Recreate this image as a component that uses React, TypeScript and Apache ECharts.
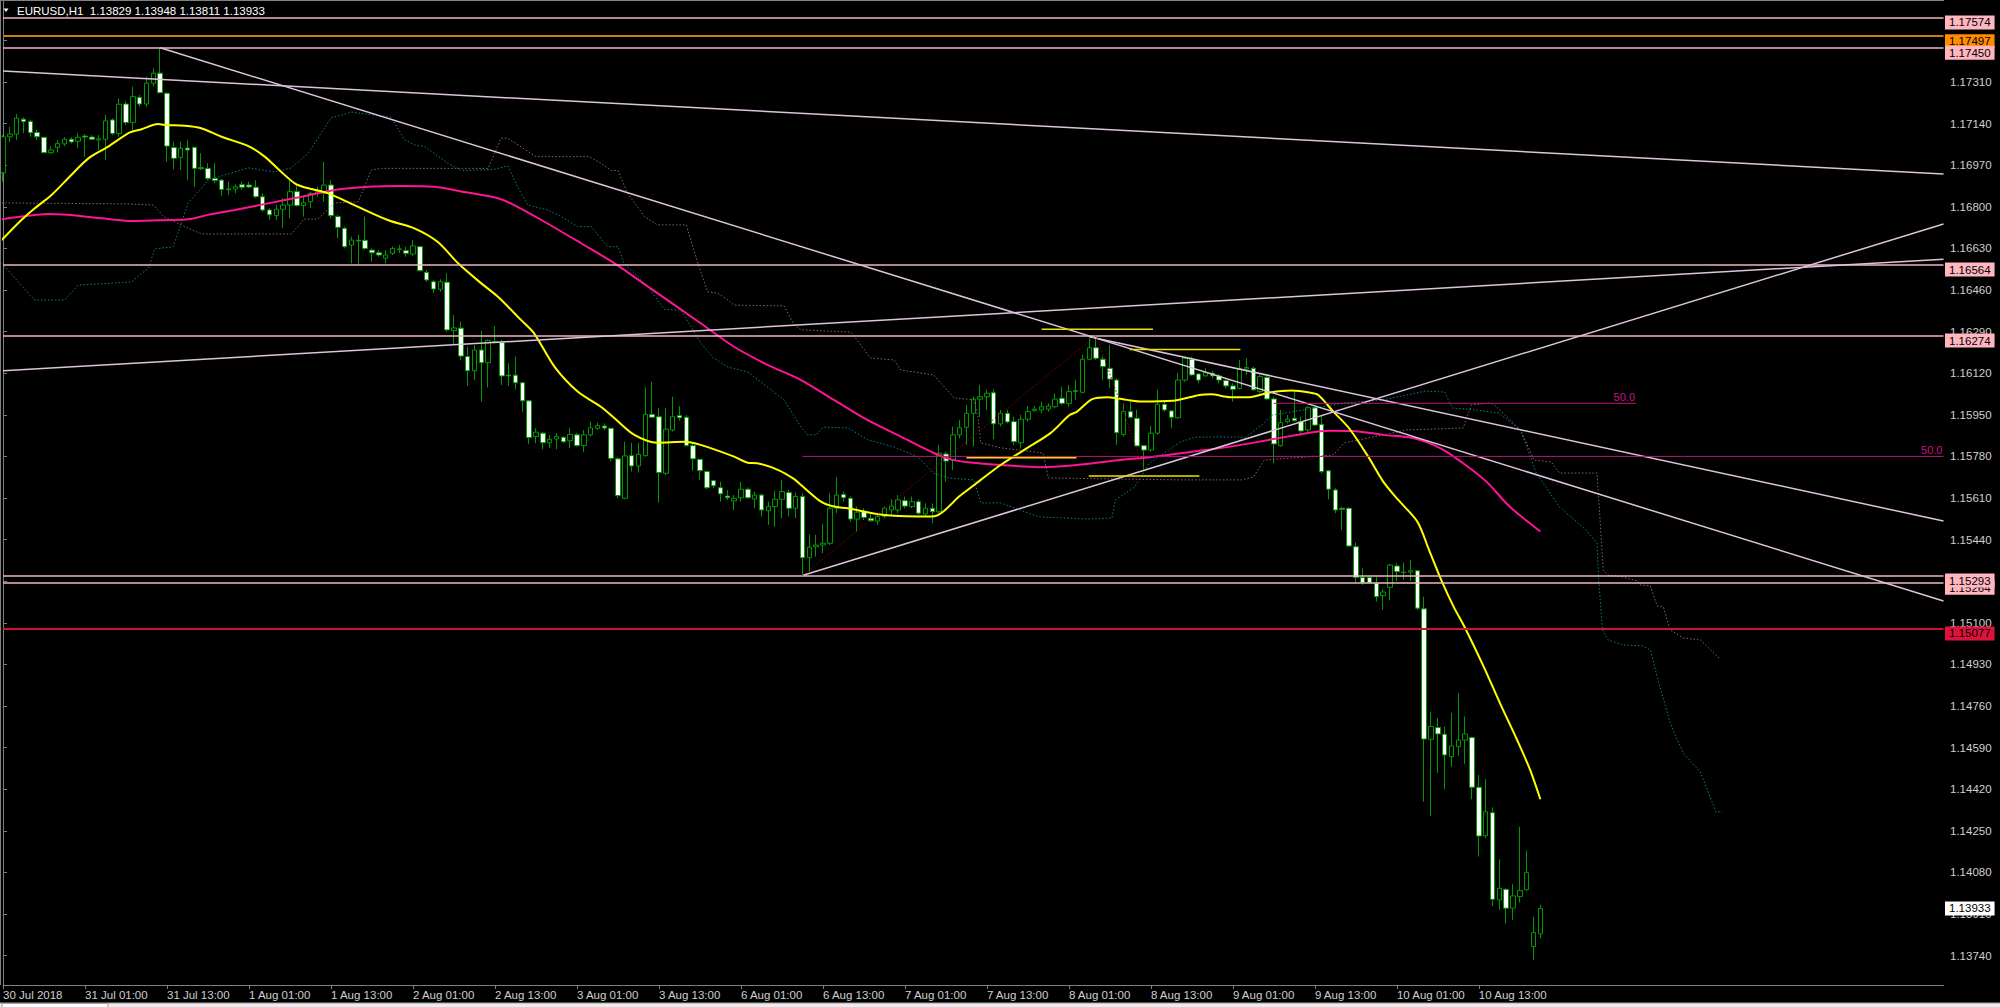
import React, { useEffect, useRef } from 'react';
import * as echarts from 'echarts';

const FONT = '"Liberation Sans", Arial, sans-serif';
const SYMBOL = 'EURUSD';
const TIMEFRAME = 'H1';

// x-axis tick labels (every 12 bars starting at bar 0)
const tickLabels = ['30 Jul 2018', '31 Jul 01:00', '31 Jul 13:00', '1 Aug 01:00', '1 Aug 13:00', '2 Aug 01:00', '2 Aug 13:00', '3 Aug 01:00', '3 Aug 13:00', '6 Aug 01:00', '6 Aug 13:00', '7 Aug 01:00', '7 Aug 13:00', '8 Aug 01:00', '8 Aug 13:00', '9 Aug 01:00', '9 Aug 13:00', '10 Aug 01:00', '10 Aug 13:00'];

// price scale tick labels
const yTicks = [1.1374, 1.1391, 1.1408, 1.1425, 1.1442, 1.1459, 1.1476, 1.1493, 1.151, 1.1527, 1.1544, 1.1561, 1.1578, 1.1595, 1.1612, 1.1629, 1.1646, 1.1663, 1.168, 1.1697, 1.1714, 1.1731, 1.1748];

const Y_MIN = 1.1362;
const Y_MAX = 1.17645;
const SLOTS = 285; // bar slots visible on the chart (incl. empty shift area)

// H1 candles: [open, close, low, high]
const ohlc: number[][] = [
  [1.16939, 1.17086, 1.16903, 1.17093], [1.17086, 1.17097, 1.17066, 1.17127], [1.17097, 1.17162, 1.17073, 1.17179], [1.17158, 1.17148, 1.171, 1.17166],
  [1.17149, 1.17103, 1.17086, 1.17155], [1.17104, 1.17086, 1.17073, 1.17114], [1.17084, 1.17021, 1.17019, 1.17086], [1.17021, 1.17032, 1.17016, 1.17048],
  [1.17043, 1.17059, 1.17021, 1.17073], [1.17057, 1.17076, 1.17048, 1.17084], [1.17076, 1.17065, 1.17059, 1.17084], [1.17068, 1.17084, 1.17039, 1.171],
  [1.17089, 1.17085, 1.17005, 1.17097], [1.17085, 1.17076, 1.17073, 1.17093], [1.17073, 1.17078, 1.17032, 1.17093], [1.17076, 1.17151, 1.16991, 1.17175],
  [1.17155, 1.171, 1.17093, 1.17162], [1.17099, 1.17219, 1.17086, 1.17243], [1.1722, 1.17144, 1.17134, 1.1723], [1.17145, 1.1725, 1.17114, 1.17291],
  [1.17247, 1.1722, 1.17209, 1.17257], [1.1722, 1.17305, 1.17209, 1.17332], [1.17305, 1.17346, 1.17291, 1.17366], [1.17346, 1.17266, 1.17264, 1.1745],
  [1.17264, 1.17048, 1.16984, 1.17268], [1.17042, 1.16998, 1.16953, 1.17066], [1.17002, 1.17039, 1.1695, 1.17066], [1.1704, 1.17032, 1.16909, 1.17073],
  [1.17043, 1.16957, 1.16882, 1.17046], [1.1696, 1.16956, 1.1695, 1.17019], [1.16957, 1.16916, 1.16909, 1.16978], [1.16916, 1.16907, 1.16896, 1.16978],
  [1.16909, 1.16871, 1.16844, 1.16912], [1.16873, 1.1687, 1.16848, 1.16903], [1.16873, 1.16882, 1.16855, 1.16892], [1.1689, 1.1688, 1.16869, 1.16903],
  [1.16889, 1.16881, 1.16876, 1.16903], [1.1688, 1.16841, 1.16835, 1.16909], [1.16841, 1.16787, 1.1678, 1.16855], [1.16787, 1.16767, 1.16746, 1.16794],
  [1.16764, 1.1679, 1.16746, 1.16807], [1.1679, 1.16807, 1.16712, 1.16835], [1.16807, 1.16862, 1.16753, 1.16909], [1.16862, 1.16805, 1.168, 1.16889],
  [1.16805, 1.16817, 1.1676, 1.16841], [1.16821, 1.16855, 1.16794, 1.16862], [1.16855, 1.16862, 1.16841, 1.16882], [1.16855, 1.16889, 1.16821, 1.16984],
  [1.16889, 1.16764, 1.16753, 1.16909], [1.1676, 1.16716, 1.16671, 1.16767], [1.16712, 1.16637, 1.1663, 1.16719], [1.16644, 1.16664, 1.16569, 1.16678],
  [1.16663, 1.1666, 1.16562, 1.16685], [1.16663, 1.1663, 1.16623, 1.1676], [1.16623, 1.16612, 1.16576, 1.1663], [1.16612, 1.16603, 1.16596, 1.16623],
  [1.1659, 1.16603, 1.16569, 1.16623], [1.1661, 1.1663, 1.16603, 1.16637], [1.16625, 1.16628, 1.1661, 1.16644], [1.16621, 1.1661, 1.16596, 1.16637],
  [1.16607, 1.1664, 1.16599, 1.16664], [1.16637, 1.16539, 1.16535, 1.16641], [1.16532, 1.16501, 1.16494, 1.16542], [1.16494, 1.16464, 1.16447, 1.16501],
  [1.16463, 1.16494, 1.16453, 1.16504], [1.16492, 1.16297, 1.1629, 1.16528], [1.16294, 1.16305, 1.16235, 1.16358], [1.16304, 1.1619, 1.16174, 1.16331],
  [1.16188, 1.1613, 1.16068, 1.16228], [1.1613, 1.16215, 1.16092, 1.16235], [1.16215, 1.16163, 1.16004, 1.16293], [1.16163, 1.16253, 1.16062, 1.16259],
  [1.16249, 1.16245, 1.16242, 1.16313], [1.16245, 1.16109, 1.16072, 1.16256], [1.16112, 1.16109, 1.16068, 1.16161], [1.16112, 1.16081, 1.16054, 1.16188],
  [1.16081, 1.16007, 1.15963, 1.16085], [1.16007, 1.15857, 1.15831, 1.16011], [1.15861, 1.15879, 1.15834, 1.15895], [1.15875, 1.15836, 1.15809, 1.15881],
  [1.15836, 1.1585, 1.15813, 1.15868], [1.15851, 1.15861, 1.15809, 1.15875], [1.15858, 1.1584, 1.15834, 1.15863], [1.15844, 1.1587, 1.15813, 1.15895],
  [1.15868, 1.15824, 1.1582, 1.15875], [1.15824, 1.15868, 1.15799, 1.15888], [1.15868, 1.15897, 1.15861, 1.15922], [1.15895, 1.15906, 1.15888, 1.15918],
  [1.15904, 1.15896, 1.15888, 1.15915], [1.15895, 1.15772, 1.15759, 1.15897], [1.1577, 1.1562, 1.15609, 1.15777], [1.15609, 1.15782, 1.15605, 1.1584],
  [1.15783, 1.15741, 1.15718, 1.15836], [1.15741, 1.15789, 1.15714, 1.15836], [1.15783, 1.15952, 1.15779, 1.16062], [1.15952, 1.1594, 1.15936, 1.16085],
  [1.15942, 1.15714, 1.15591, 1.15979], [1.15711, 1.15891, 1.15704, 1.15977], [1.15888, 1.15942, 1.15881, 1.16024], [1.15947, 1.15938, 1.15926, 1.15986],
  [1.1594, 1.15824, 1.1582, 1.15949], [1.15824, 1.1577, 1.15722, 1.15834], [1.15768, 1.15722, 1.15684, 1.15771], [1.15718, 1.15652, 1.15646, 1.15722],
  [1.15681, 1.1566, 1.1565, 1.15684], [1.15652, 1.15627, 1.15595, 1.15677], [1.15618, 1.15611, 1.15602, 1.15643], [1.15598, 1.15609, 1.15561, 1.15622],
  [1.15611, 1.15646, 1.15595, 1.15677], [1.15646, 1.15611, 1.15606, 1.15654], [1.15606, 1.15622, 1.15568, 1.15636], [1.15622, 1.15561, 1.15534, 1.15629],
  [1.15558, 1.15575, 1.155, 1.15595], [1.15575, 1.15605, 1.15493, 1.1564], [1.15605, 1.15636, 1.15527, 1.15684], [1.15632, 1.15568, 1.15534, 1.15643],
  [1.15568, 1.15616, 1.15527, 1.15632], [1.15616, 1.15366, 1.15293, 1.15629], [1.15366, 1.15409, 1.15309, 1.15462], [1.15411, 1.15418, 1.1537, 1.15459],
  [1.15418, 1.15425, 1.15384, 1.15504], [1.15425, 1.15568, 1.15418, 1.15629], [1.15568, 1.15622, 1.15548, 1.15695], [1.15625, 1.15611, 1.15595, 1.15636],
  [1.15609, 1.15524, 1.15513, 1.15616], [1.15524, 1.15552, 1.15473, 1.15575], [1.15554, 1.15531, 1.1552, 1.15568], [1.15527, 1.15517, 1.15513, 1.15548],
  [1.15516, 1.15534, 1.155, 1.15548], [1.15534, 1.15568, 1.15527, 1.15575], [1.15561, 1.15577, 1.15537, 1.15605], [1.15561, 1.15602, 1.15548, 1.15622],
  [1.15599, 1.15577, 1.15568, 1.15616], [1.15575, 1.15595, 1.15568, 1.15616], [1.15595, 1.15548, 1.15541, 1.15605], [1.15545, 1.15568, 1.15537, 1.15588],
  [1.15568, 1.15554, 1.15507, 1.15588], [1.15554, 1.15793, 1.15548, 1.15827], [1.1579, 1.15761, 1.15677, 1.15799], [1.15765, 1.15868, 1.15725, 1.15902],
  [1.15868, 1.15897, 1.15854, 1.15929], [1.15899, 1.15956, 1.15827, 1.1599], [1.15956, 1.16014, 1.1582, 1.16024], [1.16014, 1.16024, 1.15942, 1.16072],
  [1.16024, 1.16038, 1.1597, 1.16052], [1.1604, 1.15913, 1.1585, 1.16054], [1.15913, 1.15956, 1.15902, 1.1597], [1.15956, 1.15921, 1.15915, 1.1597],
  [1.15922, 1.1584, 1.15827, 1.15942], [1.15836, 1.15932, 1.15813, 1.15949], [1.15932, 1.15963, 1.15922, 1.15986], [1.15967, 1.15973, 1.15963, 1.15986],
  [1.1597, 1.15983, 1.15956, 1.16004], [1.15973, 1.15986, 1.15963, 1.15997], [1.15983, 1.16014, 1.15977, 1.16038], [1.16018, 1.15997, 1.1599, 1.16065],
  [1.15997, 1.16045, 1.15983, 1.16072], [1.16045, 1.16049, 1.16011, 1.16092], [1.16042, 1.16177, 1.16038, 1.16195], [1.16177, 1.16224, 1.16174, 1.16263],
  [1.16224, 1.16181, 1.16174, 1.16274], [1.16177, 1.16147, 1.16092, 1.16188], [1.1614, 1.16096, 1.16058, 1.16235], [1.16092, 1.15877, 1.15827, 1.16099],
  [1.1587, 1.15963, 1.15861, 1.15997], [1.15963, 1.1594, 1.15936, 1.16004], [1.15936, 1.15823, 1.1582, 1.1597], [1.15824, 1.15806, 1.15725, 1.15827],
  [1.15806, 1.15875, 1.15799, 1.15904], [1.15875, 1.15993, 1.15868, 1.16052], [1.15993, 1.1597, 1.15963, 1.16011], [1.15966, 1.1594, 1.15895, 1.1597],
  [1.15938, 1.16092, 1.15936, 1.1612], [1.16092, 1.16181, 1.16085, 1.16185], [1.16177, 1.16113, 1.16109, 1.16188], [1.16117, 1.16092, 1.16079, 1.1612],
  [1.16109, 1.16122, 1.16106, 1.1614], [1.1612, 1.16109, 1.16099, 1.1613], [1.16109, 1.16092, 1.16079, 1.16117], [1.1609, 1.16068, 1.16058, 1.16095],
  [1.16068, 1.16054, 1.16004, 1.16079], [1.16058, 1.1614, 1.16054, 1.16174], [1.16137, 1.16143, 1.16113, 1.16181], [1.1614, 1.16052, 1.16049, 1.16147],
  [1.16045, 1.16106, 1.16038, 1.16113], [1.16103, 1.16015, 1.16011, 1.16109], [1.16015, 1.15831, 1.15752, 1.16024], [1.15824, 1.15918, 1.1582, 1.1597],
  [1.15922, 1.15932, 1.15915, 1.15949], [1.15936, 1.15926, 1.15922, 1.16045], [1.15922, 1.15884, 1.15875, 1.15942], [1.15888, 1.15979, 1.15875, 1.15986],
  [1.15979, 1.15908, 1.15904, 1.15983], [1.15911, 1.15718, 1.15711, 1.15949], [1.15721, 1.15646, 1.15605, 1.15725], [1.15643, 1.15561, 1.15548, 1.1565],
  [1.15568, 1.15564, 1.15479, 1.15572], [1.15568, 1.15414, 1.15411, 1.15572], [1.15411, 1.15285, 1.15262, 1.15428], [1.15285, 1.15264, 1.15255, 1.15323],
  [1.15285, 1.15264, 1.15262, 1.15289], [1.15262, 1.15207, 1.15187, 1.15287], [1.15211, 1.15226, 1.15153, 1.15238], [1.15245, 1.15336, 1.15193, 1.15341],
  [1.15332, 1.15309, 1.15271, 1.15343], [1.15307, 1.15305, 1.15275, 1.15346], [1.15307, 1.15313, 1.15271, 1.15357], [1.15313, 1.1516, 1.15153, 1.15316],
  [1.15157, 1.14625, 1.14369, 1.15207], [1.14624, 1.14676, 1.14311, 1.14737], [1.14672, 1.14646, 1.14487, 1.14711], [1.14645, 1.1456, 1.1442, 1.14676],
  [1.14553, 1.14597, 1.14512, 1.14732], [1.14594, 1.14621, 1.14556, 1.14812], [1.14621, 1.14646, 1.14523, 1.14717], [1.14631, 1.14428, 1.14379, 1.14635],
  [1.14428, 1.14229, 1.14145, 1.14478], [1.1423, 1.14328, 1.1422, 1.14461], [1.14324, 1.1397, 1.13943, 1.14346], [1.13968, 1.14015, 1.13927, 1.14134],
  [1.14011, 1.13934, 1.13872, 1.14015], [1.13934, 1.13984, 1.13886, 1.14033], [1.13981, 1.14006, 1.13957, 1.14267], [1.14009, 1.14079, 1.14006, 1.14169],
  [1.13777, 1.13834, 1.13722, 1.13899], [1.13829, 1.13933, 1.13811, 1.13948],
];

// moving averages: [bar, price]
const maFast = [[-0.2, 1.16664], [2.7, 1.16746], [4.65, 1.16794], [7.1, 1.16848], [10, 1.1693], [12.5, 1.16998], [15.4, 1.17046], [18.5, 1.17103], [20.3, 1.17117], [22.7, 1.17138], [23.7, 1.17134], [26.6, 1.17131], [29, 1.17121], [32, 1.17086], [35.9, 1.17048], [38.3, 1.17005], [40.7, 1.16943], [42.7, 1.16896], [44.1, 1.1688], [47.6, 1.16855], [51.4, 1.16807], [56.3, 1.16746], [60.2, 1.16712], [63.6, 1.16657], [66.6, 1.16569], [70, 1.16487], [72.4, 1.16433], [75.8, 1.16338], [77.7, 1.16284], [80.7, 1.16147], [84.1, 1.16045], [87.5, 1.15983], [89.5, 1.15936], [92.4, 1.15868], [95.8, 1.15836], [99.7, 1.1584], [102.1, 1.15827], [107, 1.15779], [109, 1.15754], [110.4, 1.15752], [113.4, 1.15725], [115.8, 1.15687], [116.8, 1.15663], [119.7, 1.15595], [121.6, 1.15575], [123.6, 1.15568], [129, 1.15541], [136, 1.15534], [140.2, 1.15622], [143.1, 1.15684], [146, 1.15745], [149.4, 1.15806], [153.3, 1.15875], [156.1, 1.15949], [157.2, 1.15963], [159.4, 1.16014], [161.7, 1.16022], [164.5, 1.16011], [166.7, 1.16004], [171.2, 1.16007], [175.1, 1.16031], [176.8, 1.16034], [179.6, 1.16022], [182.4, 1.16022], [185.2, 1.1604], [188.6, 1.16049], [191.4, 1.1604], [192.5, 1.16031], [194.7, 1.15963], [197, 1.15895], [199.8, 1.15779], [202, 1.15677], [204.2, 1.15602], [207, 1.15513], [208.7, 1.15398], [210.6, 1.15268], [212.3, 1.15166], [214, 1.15078], [216.7, 1.14921], [219.1, 1.14771], [221.6, 1.14621], [223.5, 1.14499], [225, 1.14379]];
const maSlow = [[-0.2, 1.16749], [2.7, 1.1676], [6.6, 1.16771], [9.5, 1.16767], [14.4, 1.16753], [19.3, 1.16742], [24.2, 1.16746], [27.1, 1.16749], [30, 1.16767], [33.9, 1.16787], [38.8, 1.16814], [43.7, 1.16841], [48.5, 1.16869], [53.4, 1.16882], [58.3, 1.16885], [63.1, 1.16882], [68, 1.16858], [72.4, 1.16835], [74.8, 1.16807], [78.8, 1.16746], [84.6, 1.16651], [89.5, 1.16569], [94.4, 1.16474], [102.1, 1.16324], [107, 1.16228], [111.9, 1.16154], [116.8, 1.16092], [121.6, 1.16011], [126.5, 1.15929], [131.4, 1.15861], [136.3, 1.15793], [138.7, 1.15768], [141.2, 1.15756], [146, 1.15745], [151.6, 1.15736], [157.2, 1.15745], [162.8, 1.15763], [168.4, 1.15779], [174, 1.15799], [179.6, 1.1582], [185.2, 1.15847], [190.8, 1.15875], [194.1, 1.15885], [197.5, 1.15884], [202, 1.15868], [206.5, 1.15854], [210.4, 1.15813], [213.7, 1.15752], [217.1, 1.15677], [220.5, 1.15575], [225, 1.15473]];

// dotted Ichimoku-style spans: [bar, price]
const spanTeal = [[-0.2, 1.1657], [4.6, 1.16419], [9, 1.16419], [11, 1.1648], [18.8, 1.16493], [21.3, 1.1655], [22.2, 1.16628], [24.9, 1.16636], [27.1, 1.16816], [30.1, 1.1691], [35.9, 1.16959], [39.7, 1.16942], [42.2, 1.16959], [44.7, 1.1702], [48, 1.17163], [51, 1.17187], [56.8, 1.17166], [58.8, 1.17073], [60.2, 1.17053], [61.7, 1.17046], [65.1, 1.16978], [67.1, 1.16948], [71.9, 1.16953], [73.9, 1.16967], [75.3, 1.16882], [76.8, 1.16807], [79.7, 1.16787], [81.7, 1.1676], [84.1, 1.16719], [86.1, 1.16719], [88.5, 1.16637], [90, 1.16637], [90.9, 1.16569], [92.4, 1.16528], [94.4, 1.16474], [95.8, 1.16419], [96.8, 1.16381], [99.2, 1.16378], [102.1, 1.16244], [104, 1.16182], [106.1, 1.16145], [109, 1.16125], [112, 1.1606], [114.3, 1.16011], [116.8, 1.159], [117.8, 1.15868], [119, 1.15868], [120.1, 1.159], [123.7, 1.15896], [126.6, 1.15847], [130.4, 1.15819], [133.9, 1.15778], [136.2, 1.15712], [138.3, 1.15692], [142.1, 1.15684], [143.1, 1.1559], [146, 1.1559], [151.6, 1.15533], [158.9, 1.15524], [162.3, 1.15528], [162.8, 1.15602], [165.6, 1.15655], [167.8, 1.15753], [172.3, 1.15839], [174.5, 1.15859], [181.9, 1.15859], [184.6, 1.15917], [185.8, 1.15949], [188.6, 1.15962], [196.3, 1.15998], [202, 1.16011], [205.4, 1.16031], [208.2, 1.16047], [211, 1.16043], [212.1, 1.15978], [215.5, 1.1597], [218.9, 1.15957], [222.1, 1.15888], [224.4, 1.15712], [227.8, 1.15573], [231.7, 1.15479], [233.3, 1.15426], [233.5, 1.15287], [234.1, 1.15071], [234.9, 1.1503], [237.1, 1.1501], [240, 1.15005], [241.1, 1.14989], [242.1, 1.14879], [244, 1.14691], [245.9, 1.14568], [248.4, 1.14491], [250.7, 1.14327], [251.6, 1.14327]];
const spanBrown = [[-0.2, 1.16816], [17.8, 1.16812], [22, 1.16807], [23.6, 1.16758], [29, 1.16689], [42.2, 1.16689], [44.1, 1.1675], [46.1, 1.1675], [48.5, 1.16816], [52, 1.1682], [53.9, 1.1695], [55.4, 1.16957], [71, 1.16957], [72.9, 1.1708], [73.9, 1.1708], [78, 1.17005], [85.8, 1.17005], [87.5, 1.16978], [89, 1.16948], [90, 1.16948], [91.4, 1.16855], [93.9, 1.1676], [95.8, 1.16726], [100, 1.16726], [101.7, 1.16569], [103.1, 1.16453], [104.6, 1.16447], [106.1, 1.16419], [107, 1.16398], [114.3, 1.16395], [115.8, 1.16317], [116.8, 1.16297], [124.1, 1.16288], [127, 1.16182], [130.4, 1.16174], [131.4, 1.16133], [136.2, 1.16113], [139.2, 1.16019], [142.1, 1.16011], [142.7, 1.15941], [143.1, 1.15835], [146, 1.15815], [152.2, 1.15794], [153, 1.15692], [172.4, 1.15684], [181.3, 1.15684], [183, 1.15696], [184.6, 1.15765], [194.7, 1.15786], [196.3, 1.15835], [202, 1.15868], [205.4, 1.15888], [213.7, 1.15896], [214.9, 1.1599], [217.7, 1.15998], [218.3, 1.1599], [222.1, 1.15888], [224.1, 1.15765], [226.6, 1.15757], [227.8, 1.15712], [233.3, 1.15712], [234.2, 1.15316], [234.9, 1.15295], [237.1, 1.15287], [239.2, 1.15271], [239.6, 1.15255], [241.1, 1.15251], [242.1, 1.15169], [243, 1.15165], [244, 1.15071], [245.9, 1.15038], [248.4, 1.1503], [251.3, 1.14952]];

// trendlines: [[bar, price], [bar, price]]
const trendLines = [
  [[0, 1.17355], [284, 1.16934]],
  [[23, 1.1745], [284, 1.15189]],
  [[0, 1.1613], [284, 1.16586]],
  [[117, 1.15293], [284, 1.1673]],
  [[159, 1.16269], [284, 1.15516]],
];
// short yellow level segments
const yellowSegments = [
  [[152, 1.163], [168.3, 1.163]],
  [[164.9, 1.16217], [181.1, 1.16217]],
  [[141, 1.15775], [157.1, 1.15775]],
  [[158.9, 1.157], [175.1, 1.157]],
];
// fibonacci 50% levels
const fibLevels = [
  { from: 117, to: 284, price: 1.1578, text: '50.0' },
  { from: 186, to: 239, price: 1.15997, text: '50.0' },
];
const zigzag = [[117, 1.15293], [160, 1.16274], [167, 1.15725]];

// horizontal price lines
const hLines = [
  { price: 1.17574, line: '#f2b6c2', box: '#ffb6c1', width: 1.5 },
  { price: 1.17497, line: '#d07c10', box: '#ff8c00', width: 2 },
  { price: 1.1745, line: '#f2b6c2', box: '#ffb6c1', width: 1.5 },
  { price: 1.16564, line: '#f2b6c2', box: '#ffb6c1', width: 1.5 },
  { price: 1.16274, line: '#f2b6c2', box: '#ffb6c1', width: 1.5 },
  { price: 1.15264, line: '#f2b6c2', box: '#ffb6c1', width: 1.5 },
  { price: 1.15293, line: '#f2b6c2', box: '#ffb6c1', width: 1.5 },
  { price: 1.15077, line: '#cc1438', box: '#dc143c', width: 2 },
];

const categories = Array.from({ length: SLOTS }, (_, i) => String(i));

function lineSeries(data: number[][], color: string, width: number, extra: any = {}) {
  return {
    type: 'line',
    xAxisIndex: 1,
    yAxisIndex: 0,
    data,
    showSymbol: false,
    symbol: 'none',
    silent: true,
    clip: true,
    lineStyle: { color, width },
    z: 5,
    ...extra,
  };
}

function boxLabel(text: string, bg: string, dy: number) {
  return {
    show: true, position: 'end', formatter: text, backgroundColor: bg, color: '#000',
    fontSize: 11.5, fontFamily: FONT, padding: [1, 4, 1, 4], lineHeight: 12, distance: 1.5, offset: [0, dy],
  };
}

function buildOption() {
  const last = ohlc[ohlc.length - 1];
  const header = `${SYMBOL},${TIMEFRAME}  ${last[0].toFixed(5)} ${last[3].toFixed(5)} ${last[2].toFixed(5)} ${last[1].toFixed(5)}`;
  const isTick = (i: number) => i % 12 === 0 && i / 12 < tickLabels.length;

  const markLineData: any[] = hLines.map((h) => ({
    yAxis: h.price,
    lineStyle: { color: h.line, width: h.width, type: 'solid' },
    label: boxLabel(h.price.toFixed(5), h.box, 5),
  }));
  // bid price tag (no visible line)
  markLineData.push({
    yAxis: last[1],
    lineStyle: { color: 'rgba(0,0,0,0)', width: 0.01, type: 'solid' },
    label: boxLabel(last[1].toFixed(5), '#ffffff', 0),
  });

  const series: any[] = [
    {
      type: 'candlestick',
      xAxisIndex: 0,
      yAxisIndex: 0,
      data: ohlc,
      barWidth: 5,
      silent: true,
      z: 2,
      itemStyle: { color: '#000000', color0: '#ffffff', borderColor: '#009a00', borderColor0: '#009a00', borderWidth: 1 },
    },
    lineSeries(spanTeal, '#0c8080', 1, { lineStyle: { color: '#0c8080', width: 1, type: [1.5, 2] }, z: 3 }),
    lineSeries(spanBrown, '#86656a', 1, { lineStyle: { color: '#86656a', width: 1, type: [1.5, 2] }, z: 3 }),
    lineSeries(maSlow, '#ff1493', 2, { smooth: 0.3, z: 4 }),
    lineSeries(maFast, '#ffff00', 2, { smooth: 0.3, z: 4 }),
    // carrier of the horizontal price lines (its own stroke is invisible)
    lineSeries(hLines.map((h) => [0, h.price]), 'rgba(0,0,0,0)', 0.01, {
      z: 6,
      markLine: { silent: true, symbol: ['none', 'none'], animation: false, precision: 5, data: markLineData },
    }),
  ];
  trendLines.forEach((t) => series.push(lineSeries(t, '#dcc4dc', 1.5)));
  yellowSegments.forEach((s) => series.push(lineSeries(s, '#f0e000', 1.5)));
  fibLevels.forEach((f) =>
    series.push(
      lineSeries([[f.from, f.price], [f.to, f.price]], '#b8187a', 1, {
        markPoint: {
          silent: true, symbol: 'circle', symbolSize: 0, itemStyle: { color: 'transparent' },
          data: [{ coord: [f.to, f.price] }],
          label: { show: true, position: 'left', distance: 1, offset: [0, -6.5], formatter: f.text, color: '#c71585', fontSize: 11, fontFamily: FONT },
        },
      })
    )
  );
  series.push(lineSeries(zigzag, '#8b0000', 1, { lineStyle: { color: '#8b0000', width: 1, type: [1.5, 2] } }));

  return {
    animation: false,
    backgroundColor: '#000000',
    textStyle: { fontFamily: FONT },
    grid: { left: 1.5, top: 0, width: 1942, height: 985, containLabel: false },
    xAxis: [
      {
        type: 'category',
        data: categories,
        boundaryGap: false,
        axisLine: { show: true, lineStyle: { color: '#808080', width: 1 } },
        axisTick: { show: true, interval: (i: number) => isTick(i), length: 4, lineStyle: { color: '#808080' } },
        axisLabel: {
          interval: (i: number) => isTick(i), align: 'left', verticalAlign: 'top', margin: 4,
          color: '#cfcfcf', fontSize: 11.5, fontFamily: FONT,
          formatter: (_v: string, i: number) => (isTick(i) ? tickLabels[i / 12] : ''),
        },
        splitLine: { show: false },
      },
      { type: 'value', min: 0, max: SLOTS - 1, show: false, splitLine: { show: false } },
    ],
    yAxis: [
      {
        type: 'value',
        position: 'right',
        min: Y_MIN,
        max: Y_MAX,
        splitLine: { show: false },
        axisLine: { show: true, lineStyle: { color: '#808080', width: 1 } },
        axisTick: { show: true, length: 4, customValues: yTicks, lineStyle: { color: '#808080' } },
        axisLabel: { customValues: yTicks, formatter: (v: number) => v.toFixed(5), color: '#cfcfcf', fontSize: 11.5, fontFamily: FONT, margin: 6.5 },
      },
    ],
    graphic: [
      { type: 'line', z: 50, shape: { x1: 0.5, y1: 0, x2: 0.5, y2: 985 }, style: { stroke: '#808080', lineWidth: 1 } },
      { type: 'line', z: 50, shape: { x1: 0, y1: 0.5, x2: 1944, y2: 0.5 }, style: { stroke: '#808080', lineWidth: 1 } },
      { type: 'polygon', z: 50, shape: { points: [[3.5, 8.5], [8.5, 8.5], [6, 12]] }, style: { fill: '#ffffff' } },
      { type: 'text', z: 50, x: 17, y: 10.5, style: { text: header, fill: '#ffffff', fontSize: 11.5, fontFamily: FONT, verticalAlign: 'middle', align: 'left' } },
      { type: 'rect', z: 50, shape: { x: 0, y: 1003, width: 2000, height: 4 }, style: { fill: '#ececec' } },
      { type: 'line', z: 51, shape: { x1: 0, y1: 1003, x2: 2000, y2: 1003 }, style: { stroke: '#a0a0a0', lineWidth: 1 } },
      { type: 'rect', z: 52, shape: { x: 2, y: 1003.5, width: 106, height: 4 }, style: { fill: '#ffffff', stroke: '#a0a0a0', lineWidth: 1 } },
    ],
    series,
  };
}

export default function App() {
  const ref = useRef<HTMLDivElement>(null);
  useEffect(() => {
    document.body.style.margin = '0';
    document.body.style.background = '#000';
    const chart = echarts.init(ref.current as HTMLDivElement, null, { renderer: 'svg' });
    chart.setOption(buildOption() as any);
    return () => chart.dispose();
  }, []);
  return <div ref={ref} style={{ width: 2000, height: 1007, background: '#000' }} />;
}
